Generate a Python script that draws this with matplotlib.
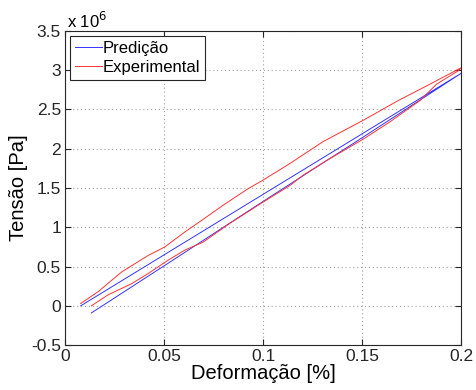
import matplotlib
matplotlib.use("Agg")
import matplotlib.pyplot as plt

plt.rcParams['font.family'] = ['Liberation Sans', 'DejaVu Sans']

# Predicao (strain [%], stress [x1e6 Pa]) - upper branch then lower branch back
pred_x = [0.0078, 0.05, 0.1, 0.15, 0.2, 0.15, 0.1, 0.05, 0.0132]
pred_y = [0.0, 0.65, 1.42, 2.19, 2.96, 2.14, 1.33, 0.51, -0.09]

# Experimental - loading (upper) and unloading (lower)
exp_up_x = [0.0078, 0.0166, 0.0284, 0.0418, 0.0503, 0.0604, 0.0696, 0.0797,
            0.0923, 0.0999, 0.1134, 0.1302, 0.1504, 0.168, 0.1841, 0.1984, 0.2]
exp_up_y = [0.03, 0.18, 0.43, 0.64, 0.75, 0.94, 1.10, 1.28,
            1.49, 1.60, 1.81, 2.09, 2.36, 2.61, 2.82, 3.01, 3.03]
exp_dn_x = [0.2, 0.1984, 0.1875, 0.179, 0.1639, 0.1504, 0.1327, 0.12, 0.1134,
            0.0999, 0.0831, 0.0696, 0.0604, 0.0519, 0.0418, 0.0334, 0.0216, 0.0132]
exp_dn_y = [3.03, 2.99, 2.82, 2.61, 2.34, 2.12, 1.86, 1.66, 1.53,
            1.32, 1.05, 0.81, 0.71, 0.58, 0.41, 0.28, 0.14, 0.0]

exp_x = exp_up_x + exp_dn_x
exp_y = exp_up_y + exp_dn_y

fig = plt.figure(figsize=(4.76, 3.9), dpi=100)
ax = fig.add_axes([0.137, 0.115, 0.832, 0.806])

ax.plot(pred_x, [v * 1e6 for v in pred_y], color='#3333ff', lw=0.7, label='Predição')
ax.plot(exp_x, [v * 1e6 for v in exp_y], color='#ff3333', lw=0.7, label='Experimental')

ax.set_xlim(0, 0.2)
ax.set_ylim(-0.5e6, 3.5e6)
xt = [0, 0.05, 0.1, 0.15, 0.2]
yt = [-0.5, 0, 0.5, 1, 1.5, 2, 2.5, 3, 3.5]
ax.set_xticks(xt)
ax.set_xticklabels(['0', '0.05', '0.1', '0.15', '0.2'])
ax.set_yticks([v * 1e6 for v in yt])
ax.set_yticklabels(['-0.5', '0', '0.5', '1', '1.5', '2', '2.5', '3', '3.5'])
ax.tick_params(direction='in', top=True, right=True, length=4, labelsize=12.5,
               colors='#262626', pad=3)
for s in ax.spines.values():
    s.set_color('#262626')
    s.set_linewidth(0.8)
ax.grid(True, linestyle=(0, (1, 2.5)), color='#a0a0a0', lw=0.8)

ax.set_xlabel('Deformação [%]', fontsize=14.5, labelpad=0)
ax.set_ylabel('Tensão [Pa]', fontsize=14.5, labelpad=2)
ax.text(0.005, 1.0, r'x 10$^6$', transform=ax.transAxes, fontsize=12, ha='left', va='bottom')

leg = ax.legend(loc='upper left', fontsize=12, handlelength=1.6, handletextpad=0.05,
                borderpad=0.3, labelspacing=0.25, borderaxespad=0.3, fancybox=False,
                framealpha=1)
leg.get_frame().set_edgecolor('#262626')
leg.get_frame().set_linewidth(0.8)

fig.savefig('out.png', dpi=100)
